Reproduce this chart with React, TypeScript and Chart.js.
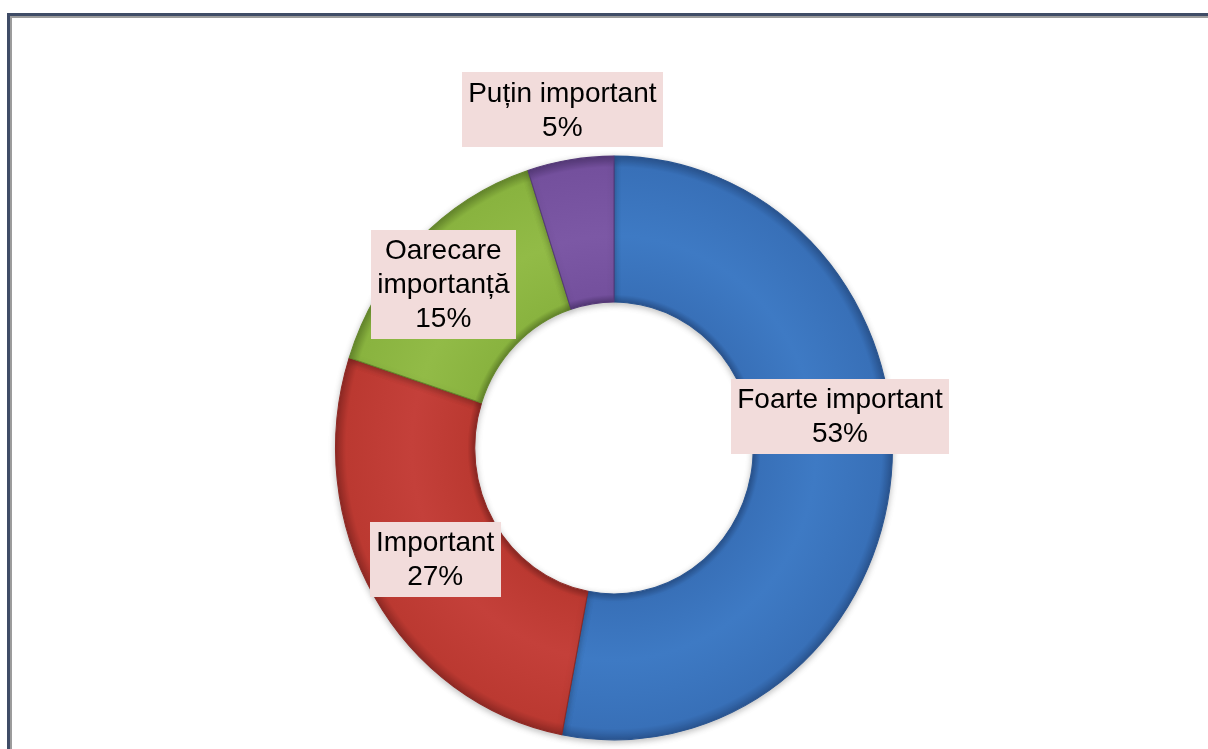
import React, { useEffect, useRef } from "react";
import { Chart, registerables } from "chart.js";

Chart.register(...registerables);

const categories = ["Foarte important", "Important", "Oarecare importanță", "Puțin important"];
const values = [53, 27, 15, 5];
const labelLines = [["Foarte important"], ["Important"], ["Oarecare", "importanță"], ["Puțin important"]];
const baseColors = ["#3870B8", "#BB3931", "#89B33F", "#74509D"];
const lightColors = ["#3E7AC4", "#C4403A", "#92BB47", "#7C58A5"];
const darkColors = ["#2A5591", "#8F2924", "#65872C", "#553978"];
const labelOffsets = [
  [18, -52],
  [1, 0],
  [-23, -9],
  [-19, -122],
];

const yScale = 1.048;
const labelFont = "28px 'Liberation Sans', Arial, sans-serif";
const lineHeight = 34;

function makeGradient(ctx: any, i: number) {
  const chart = ctx.chart;
  const area = chart.chartArea;
  if (!area) return baseColors[i];
  const cx = (area.left + area.right) / 2;
  const cy = (area.top + area.bottom) / 2;
  const outer = Math.min(area.right - area.left, area.bottom - area.top) / 2;
  const inner = outer * 0.5;
  const g = chart.ctx.createRadialGradient(cx, cy, inner, cx, cy, outer);
  g.addColorStop(0, darkColors[i]);
  g.addColorStop(0.05, baseColors[i]);
  g.addColorStop(0.45, lightColors[i]);
  g.addColorStop(0.92, baseColors[i]);
  g.addColorStop(1, darkColors[i]);
  return g;
}

const donutPlugin = {
  id: "donutDecor",
  beforeDraw(chart: any) {
    const c = chart.ctx;
    c.save();
    c.fillStyle = "#ffffff";
    c.fillRect(0, 0, chart.width, chart.height);
    c.strokeStyle = "#3F4C66";
    c.lineWidth = 3;
    c.strokeRect(8.5, 14.5, chart.width + 20, chart.height + 20);
    c.strokeStyle = "#9C9C9C";
    c.lineWidth = 2;
    c.strokeRect(11, 17, chart.width + 20, chart.height + 20);
    c.restore();
  },
  beforeDatasetsDraw(chart: any) {
    const c = chart.ctx;
    const area = chart.chartArea;
    const cx = (area.left + area.right) / 2;
    const cy = (area.top + area.bottom) / 2;
    c.save();
    c.translate(cx, cy);
    c.scale(1, yScale);
    c.translate(-cx, -cy);
    c.shadowColor = "rgba(0,0,0,0.25)";
    c.shadowBlur = 6;
    c.shadowOffsetY = 2;
  },
  afterDatasetsDraw(chart: any) {
    chart.ctx.restore();
  },
  afterDraw(chart: any) {
    const c = chart.ctx;
    const meta = chart.getDatasetMeta(0);
    const total = values.reduce((a, b) => a + b, 0);
    c.save();
    c.font = labelFont;
    c.textAlign = "center";
    c.textBaseline = "middle";
    meta.data.forEach((el: any, i: number) => {
      const p = el.tooltipPosition();
      const cy = el.y;
      const px = p.x + labelOffsets[i][0];
      const py = cy + (p.y - cy) * yScale + labelOffsets[i][1];
      const lines = [...labelLines[i], Math.round((values[i] / total) * 100) + "%"];
      const w = Math.max(...lines.map((l) => c.measureText(l).width)) + 13;
      const h = lines.length * lineHeight + 7;
      c.fillStyle = "#F2DCDB";
      c.fillRect(Math.round(px - w / 2), Math.round(py - h / 2), Math.round(w), Math.round(h));
      c.fillStyle = "#000000";
      lines.forEach((l, k) => {
        c.fillText(l, px, py - ((lines.length - 1) * lineHeight) / 2 + k * lineHeight + 1);
      });
    });
    c.restore();
  },
};

export default function App() {
  const ref = useRef<HTMLCanvasElement | null>(null);
  useEffect(() => {
    if (!ref.current) return;
    const chart = new Chart(ref.current, {
      type: "doughnut",
      data: {
        labels: categories,
        datasets: [
          {
            data: values,
            backgroundColor: (ctx: any) => makeGradient(ctx, ctx.dataIndex),
            borderColor: darkColors,
            borderWidth: 1,
          },
        ],
      },
      options: {
        responsive: false,
        animation: false,
        cutout: "50%",
        layout: { padding: { left: 335, right: 315, top: 169, bottom: 22 } },
        plugins: {
          legend: { display: false },
          tooltip: { enabled: false },
          title: { display: false },
        },
      },
      plugins: [donutPlugin],
    });
    return () => chart.destroy();
  }, []);
  return (
    <div style={{ position: "absolute", left: 0, top: 0, width: 1208, height: 749, overflow: "hidden", background: "#fff" }}>
      <canvas ref={ref} width={1208} height={749} style={{ display: "block", width: 1208, height: 749 }} />
    </div>
  );
}
